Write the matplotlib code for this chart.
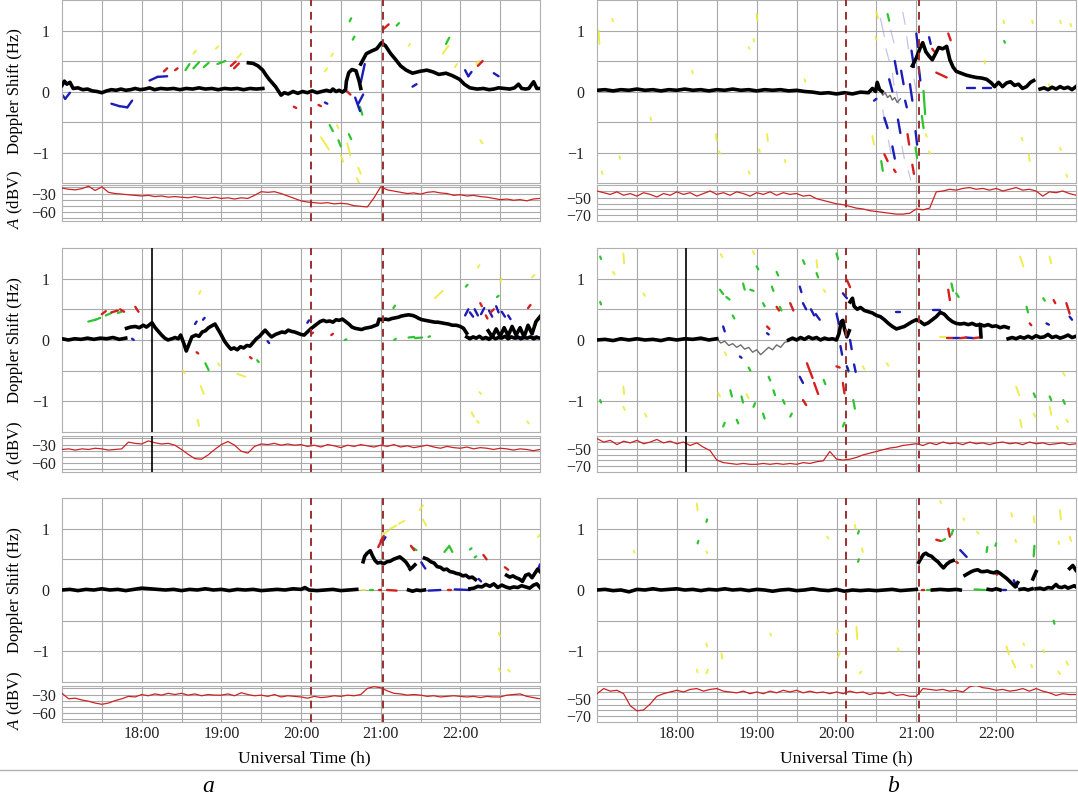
import numpy as np
import matplotlib.pyplot as plt
from matplotlib.collections import LineCollection
from matplotlib.lines import Line2D

plt.rcParams['font.family'] = ['Liberation Serif', 'DejaVu Serif']
plt.rcParams['mathtext.fontset'] = 'custom'
plt.rcParams['mathtext.rm'] = 'Liberation Serif'
plt.rcParams['mathtext.it'] = 'Liberation Serif:italic'
plt.rcParams['font.size'] = 11.5

# ---------------- data ----------------
# amplitude A (dBV), samples every 5 min from 17:00 to 23:00
amp_time = np.linspace(17, 23, 73)
amp_a1 = [-21, -23, -24, -22, -18, -25, -19, -28, -30, -31, -32, -33,
          -34, -33, -35, -34, -36, -35, -36, -37, -35, -37, -38, -36,
          -38, -37, -39, -37, -38, -33, -27, -28, -27, -30, -34, -38,
          -42, -44, -45, -46, -45, -47, -46, -47, -50, -51, -52, -37,
          -19, -24, -26, -28, -30, -29, -31, -28, -27, -29, -30, -33,
          -32, -34, -33, -35, -36, -38, -40, -39, -41, -40, -42, -39, -38]
amp_b1 = [-42, -44, -46, -43, -47, -45, -48, -44, -46, -49, -45, -47,
          -43, -46, -44, -48, -45, -42, -46, -44, -47, -43, -45, -48,
          -44, -46, -43, -47, -44, -46, -45, -48, -47, -51, -53, -55,
          -57, -58, -60, -62, -63, -65, -66, -67, -68, -69, -69, -68,
          -63, -64, -62, -43, -42, -40, -41, -39, -38, -40, -39, -41,
          -39, -42, -40, -38, -41, -40, -42, -48, -43, -44, -42, -45, -47]
amp_a2 = [-38, -37, -39, -37, -38, -36, -37, -39, -38, -37, -26, -28,
          -29, -24, -27, -29, -28, -31, -38, -46, -53, -54, -47, -38,
          -30, -25, -31, -41, -44, -33, -29, -30, -28, -31, -29, -31,
          -30, -33, -31, -34, -30, -32, -35, -31, -33, -30, -32, -34,
          -31, -33, -30, -34, -32, -35, -33, -31, -34, -36, -33, -35,
          -36, -34, -37, -35, -36, -38, -36, -37, -39, -37, -38, -40, -38]
amp_b2 = [-38, -42, -40, -45, -41, -43, -40, -44, -42, -39, -43, -41,
          -44, -42, -46, -43, -48, -52, -63, -66, -67, -68, -67, -68,
          -68, -67, -68, -67, -68, -67, -68, -66, -67, -65, -64, -53,
          -62, -63, -62, -60, -57, -55, -53, -51, -49, -48, -46, -45,
          -44, -46, -43, -45, -42, -44, -43, -45, -42, -44, -43, -45,
          -43, -42, -44, -43, -45, -42, -44, -43, -45, -44, -43, -45, -44]
amp_a3 = [-28, -37, -36, -39, -41, -44, -46, -44, -40, -37, -33, -34,
          -30, -32, -29, -31, -28, -30, -28, -31, -29, -32, -30, -31,
          -31, -29, -32, -27, -30, -32, -31, -33, -30, -34, -32, -33,
          -34, -36, -33, -35, -34, -32, -33, -31, -32, -30, -20, -17,
          -19, -24, -28, -29, -31, -30, -31, -33, -32, -34, -33, -32,
          -33, -34, -33, -35, -33, -34, -34, -31, -30, -29, -33, -35, -37]
amp_b3 = [-44, -38, -41, -40, -44, -58, -64, -63, -56, -47, -44, -42,
          -40, -42, -39, -38, -41, -39, -38, -41, -42, -43, -41, -44,
          -42, -44, -41, -43, -40, -42, -40, -43, -41, -43, -42, -44,
          -42, -44, -41, -43, -42, -45, -43, -44, -42, -46, -45, -47,
          -47, -38, -39, -40, -39, -41, -40, -42, -36, -34, -37, -38,
          -40, -39, -41, -40, -38, -41, -38, -41, -43, -46, -44, -45, -45]

# main Doppler traces (time h, shift Hz), one list per continuous piece
black_a1 = [
    [(17.00, 0.10), (17.03, 0.17), (17.06, 0.12), (17.10, 0.15), (17.14, 0.05), (17.20, 0.06),
     (17.26, 0.03), (17.32, 0.04), (17.38, 0.01), (17.44, 0.00), (17.50, -0.02), (17.56, 0.01),
     (17.62, 0.03), (17.68, 0.02), (17.74, 0.04), (17.80, 0.02), (17.86, 0.03), (17.92, 0.05),
     (17.98, 0.03), (18.04, 0.04), (18.10, 0.06), (18.16, 0.03), (18.24, 0.05), (18.32, 0.04),
     (18.40, 0.05), (18.48, 0.03), (18.56, 0.05), (18.64, 0.04), (18.72, 0.06), (18.80, 0.04),
     (18.88, 0.05), (18.96, 0.03), (19.04, 0.05), (19.12, 0.04), (19.20, 0.05), (19.28, 0.03),
     (19.36, 0.05), (19.44, 0.04), (19.52, 0.05)],
    [(19.34, 0.47), (19.40, 0.46), (19.46, 0.42), (19.52, 0.35), (19.56, 0.27), (19.60, 0.20),
     (19.64, 0.14), (19.68, 0.08), (19.72, 0.00), (19.75, -0.06), (19.79, -0.02), (19.84, -0.04),
     (19.90, 0.00), (19.96, -0.03), (20.02, 0.00), (20.08, -0.02), (20.14, 0.01), (20.20, -0.02),
     (20.26, 0.00), (20.32, 0.02), (20.37, 0.00), (20.40, 0.04), (20.44, 0.00), (20.48, 0.02),
     (20.52, -0.01), (20.56, 0.03), (20.57, 0.17), (20.60, 0.31), (20.64, 0.36), (20.69, 0.34),
     (20.73, 0.17), (20.75, 0.05)],
    [(20.75, 0.45), (20.77, 0.50), (20.82, 0.62), (20.88, 0.66), (20.95, 0.70), (21.01, 0.80),
     (21.06, 0.75), (21.12, 0.63), (21.19, 0.52), (21.25, 0.42), (21.32, 0.35), (21.40, 0.30),
     (21.49, 0.33), (21.58, 0.35), (21.66, 0.32), (21.73, 0.28), (21.82, 0.30), (21.90, 0.26),
     (21.99, 0.20), (22.05, 0.12), (22.12, 0.06), (22.21, 0.04), (22.29, 0.05), (22.36, 0.03),
     (22.42, 0.04), (22.48, 0.06), (22.55, 0.05), (22.62, 0.04), (22.68, 0.06), (22.73, 0.12),
     (22.77, 0.05), (22.82, 0.04), (22.86, 0.05), (22.92, 0.16), (22.96, 0.05), (23.00, 0.05)],
]
black_b1 = [
    [(17.0, 0.02), (17.1, 0.03), (17.2, 0.01), (17.3, 0.03), (17.4, 0.02), (17.5, 0.04), (17.6, 0.02),
     (17.7, 0.03), (17.8, 0.01), (17.9, 0.03), (18.0, 0.02), (18.1, 0.04), (18.2, 0.02), (18.3, 0.03),
     (18.4, 0.01), (18.5, 0.03), (18.6, 0.02), (18.7, 0.04), (18.8, 0.02), (18.9, 0.03), (19.0, 0.01),
     (19.1, 0.03), (19.2, 0.02), (19.3, 0.03), (19.4, 0.01), (19.5, 0.02), (19.6, 0.00), (19.7, -0.01),
     (19.8, -0.03), (19.9, -0.02), (20.0, -0.04), (20.1, -0.02), (20.2, -0.04), (20.3, -0.01),
     (20.4, -0.02), (20.45, 0.05), (20.49, 0.00), (20.51, 0.15), (20.54, 0.03), (20.57, 0.00)],
    [(20.95, 0.42), (21.00, 0.55), (21.05, 0.72), (21.08, 0.80), (21.12, 0.65), (21.16, 0.58),
     (21.20, 0.52), (21.24, 0.62), (21.28, 0.72), (21.33, 0.70), (21.38, 0.74), (21.42, 0.52),
     (21.46, 0.40), (21.50, 0.33), (21.56, 0.30), (21.62, 0.27), (21.68, 0.25), (21.75, 0.23),
     (21.82, 0.22), (21.88, 0.20), (21.94, 0.14), (21.98, 0.08), (22.03, 0.15), (22.08, 0.08),
     (22.13, 0.14), (22.18, 0.16), (22.23, 0.10), (22.28, 0.12), (22.33, 0.05), (22.38, 0.08),
     (22.43, 0.15), (22.47, 0.18)],
    [(22.55, 0.04), (22.60, 0.06), (22.65, 0.03), (22.70, 0.07), (22.75, 0.04), (22.80, 0.08),
     (22.85, 0.05), (22.90, 0.07), (22.95, 0.03), (23.00, 0.08)],
]
black_a2 = [
    [(17.00, 0.02), (17.08, 0.00), (17.16, 0.02), (17.24, 0.01), (17.32, 0.03), (17.40, 0.01),
     (17.48, 0.03), (17.56, 0.02), (17.64, 0.04), (17.72, 0.01), (17.80, 0.03)],
    [(17.81, 0.19), (17.86, 0.21), (17.92, 0.22), (17.97, 0.20), (18.02, 0.24), (18.06, 0.21),
     (18.10, 0.25), (18.13, 0.28), (18.17, 0.20), (18.21, 0.14), (18.25, 0.08), (18.29, 0.03),
     (18.33, 0.00), (18.38, 0.02), (18.42, 0.04), (18.46, 0.02), (18.49, 0.08), (18.53, -0.06),
     (18.56, -0.18), (18.60, -0.05), (18.63, 0.05), (18.68, 0.08), (18.72, 0.06), (18.76, 0.13),
     (18.80, 0.15), (18.84, 0.20), (18.88, 0.23), (18.92, 0.26), (18.96, 0.17), (19.00, 0.08),
     (19.04, -0.02), (19.08, -0.09), (19.12, -0.15), (19.16, -0.13), (19.20, -0.16), (19.24, -0.11),
     (19.28, -0.13), (19.32, -0.09), (19.36, -0.10), (19.40, -0.04), (19.44, 0.02), (19.48, 0.06),
     (19.52, 0.12), (19.55, 0.16), (19.59, 0.10), (19.63, 0.05), (19.68, 0.09), (19.72, 0.11),
     (19.76, 0.13), (19.80, 0.12), (19.84, 0.16), (19.88, 0.14), (19.92, 0.13), (19.96, 0.11),
     (20.00, 0.09), (20.04, 0.08), (20.08, 0.13), (20.12, 0.18), (20.16, 0.22), (20.20, 0.26),
     (20.24, 0.30), (20.28, 0.32), (20.32, 0.30), (20.36, 0.31), (20.40, 0.29), (20.44, 0.33),
     (20.48, 0.32), (20.52, 0.34), (20.56, 0.30), (20.60, 0.26), (20.64, 0.21), (20.68, 0.19),
     (20.72, 0.18), (20.76, 0.17), (20.80, 0.19), (20.84, 0.20), (20.88, 0.21), (20.92, 0.23),
     (20.96, 0.25), (20.98, 0.34), (21.02, 0.33), (21.06, 0.34), (21.10, 0.33), (21.14, 0.35),
     (21.18, 0.36), (21.22, 0.37), (21.26, 0.39), (21.30, 0.40), (21.35, 0.41), (21.40, 0.40),
     (21.44, 0.38), (21.48, 0.35), (21.52, 0.33), (21.56, 0.32), (21.60, 0.31), (21.64, 0.30),
     (21.68, 0.29), (21.72, 0.29), (21.76, 0.28), (21.80, 0.27), (21.85, 0.26), (21.90, 0.24),
     (21.95, 0.24), (22.00, 0.22), (22.04, 0.19), (22.08, 0.11)],
    [(22.08, 0.05), (22.12, 0.02), (22.16, 0.05), (22.20, 0.03), (22.24, 0.06), (22.28, 0.02),
     (22.32, 0.04), (22.36, 0.01), (22.40, 0.05), (22.44, 0.02), (22.48, 0.04), (22.52, 0.03),
     (22.56, 0.06), (22.60, 0.02), (22.64, 0.05), (22.68, 0.03), (22.72, 0.05), (22.76, 0.02),
     (22.80, 0.04), (22.84, 0.03), (22.88, 0.05), (22.92, 0.02), (22.96, 0.04), (23.00, 0.03)],
    [(22.35, 0.15), (22.40, 0.05), (22.45, 0.18), (22.50, 0.06), (22.55, 0.20), (22.60, 0.07),
     (22.65, 0.22), (22.70, 0.08), (22.75, 0.20), (22.80, 0.05), (22.85, 0.24), (22.90, 0.10),
     (22.95, 0.30), (23.00, 0.38)],
]
black_b2 = [
    [(17.0, 0.00), (17.1, 0.01), (17.2, -0.01), (17.3, 0.02), (17.4, 0.00), (17.5, 0.02), (17.6, 0.00),
     (17.7, 0.01), (17.8, -0.01), (17.9, 0.02), (18.0, 0.00), (18.1, 0.02), (18.2, 0.01), (18.3, 0.03),
     (18.4, 0.00), (18.5, 0.02)],
    [(19.40, 0.00), (19.45, 0.03), (19.50, 0.00), (19.55, 0.04), (19.60, 0.01), (19.65, 0.05),
     (19.70, 0.02), (19.75, 0.04), (19.80, 0.00), (19.85, 0.03), (19.90, 0.01), (19.95, 0.02),
     (20.00, 0.00), (20.03, 0.10), (20.06, 0.30), (20.08, 0.32), (20.10, 0.18), (20.13, 0.05),
     (20.16, 0.15)],
    [(20.17, 0.62), (20.20, 0.68), (20.22, 0.55), (20.26, 0.50), (20.30, 0.53), (20.35, 0.48),
     (20.40, 0.46), (20.45, 0.44), (20.50, 0.40), (20.55, 0.38), (20.60, 0.33), (20.65, 0.27),
     (20.70, 0.22), (20.75, 0.18), (20.80, 0.20), (20.85, 0.22), (20.90, 0.26), (20.95, 0.30),
     (21.00, 0.33), (21.05, 0.30), (21.10, 0.25), (21.15, 0.28), (21.20, 0.33), (21.25, 0.38),
     (21.30, 0.45), (21.35, 0.42), (21.40, 0.35), (21.45, 0.30), (21.50, 0.27), (21.55, 0.26),
     (21.60, 0.27), (21.65, 0.25), (21.70, 0.27), (21.75, 0.24), (21.80, 0.25), (21.81, 0.05)],
    [(21.80, 0.25), (21.85, 0.23), (21.90, 0.25), (21.95, 0.22), (22.00, 0.23), (22.05, 0.20),
     (22.10, 0.22), (22.15, 0.20)],
    [(22.15, 0.02), (22.20, 0.04), (22.25, 0.02), (22.30, 0.05), (22.35, 0.03), (22.40, 0.06),
     (22.45, 0.03), (22.50, 0.07), (22.55, 0.04), (22.60, 0.05), (22.65, 0.09), (22.70, 0.04),
     (22.75, 0.06), (22.80, 0.03), (22.85, 0.05), (22.90, 0.08), (22.95, 0.04), (23.00, 0.06)],
]
black_a3 = [
    [(17.0, 0.00), (17.1, 0.01), (17.2, -0.01), (17.3, 0.01), (17.4, 0.00), (17.5, 0.02), (17.6, 0.00),
     (17.7, 0.01), (17.8, -0.01), (17.9, 0.01), (18.0, 0.03), (18.1, 0.02), (18.2, 0.01), (18.3, 0.00),
     (18.4, 0.01), (18.5, -0.01), (18.6, 0.01), (18.7, 0.00), (18.8, 0.02), (18.9, 0.00), (19.0, 0.01),
     (19.1, -0.01), (19.2, 0.01), (19.3, 0.00), (19.4, 0.01), (19.5, -0.01), (19.6, 0.00), (19.7, 0.01),
     (19.8, 0.00), (19.9, 0.02), (20.0, 0.01), (20.05, 0.04), (20.1, 0.00), (20.2, -0.01), (20.3, 0.00),
     (20.4, 0.01), (20.5, -0.01), (20.6, 0.00), (20.7, 0.01)],
    [(21.35, 0.00), (21.40, -0.02), (21.45, 0.00), (21.50, -0.01), (21.55, 0.00)],
    [(22.12, 0.02), (22.17, 0.03), (22.22, 0.06), (22.27, 0.05), (22.32, 0.09), (22.37, 0.06),
     (22.42, 0.10), (22.47, 0.04), (22.52, 0.08), (22.57, 0.05), (22.62, 0.03), (22.67, 0.05),
     (22.72, 0.04), (22.77, 0.07), (22.82, 0.05), (22.87, 0.03), (22.92, 0.08), (22.96, 0.10),
     (23.00, 0.04)],
    [(20.78, 0.46), (20.80, 0.55), (20.83, 0.60), (20.87, 0.64), (20.90, 0.55), (20.93, 0.48),
     (20.96, 0.44), (21.00, 0.45), (21.04, 0.43), (21.08, 0.46), (21.12, 0.47), (21.16, 0.50),
     (21.20, 0.52), (21.24, 0.54), (21.28, 0.50), (21.32, 0.45), (21.35, 0.39)],
    [(21.37, 0.34), (21.40, 0.37), (21.43, 0.41)],
    [(21.55, 0.52), (21.59, 0.50), (21.63, 0.46), (21.67, 0.44), (21.71, 0.38), (21.75, 0.37),
     (21.79, 0.33), (21.83, 0.34), (21.87, 0.30), (21.91, 0.29), (21.95, 0.27), (21.99, 0.26),
     (22.03, 0.23), (22.07, 0.24), (22.11, 0.20), (22.15, 0.21), (22.19, 0.17)],
    [(22.58, 0.24), (22.62, 0.21), (22.66, 0.23), (22.70, 0.20), (22.74, 0.18), (22.78, 0.14),
     (22.82, 0.24), (22.86, 0.26), (22.90, 0.20), (22.94, 0.28), (22.97, 0.34), (23.00, 0.30)],
]
black_b3 = [
    [(17.0, 0.00), (17.1, 0.01), (17.2, -0.01), (17.3, 0.00), (17.4, -0.03), (17.5, 0.01), (17.6, 0.00),
     (17.7, 0.02), (17.8, 0.00), (17.9, 0.01), (18.0, 0.02), (18.1, 0.00), (18.2, 0.01), (18.3, -0.01),
     (18.4, 0.01), (18.5, 0.00), (18.6, 0.02), (18.7, 0.00), (18.8, 0.01), (18.9, -0.01), (19.0, 0.01),
     (19.1, 0.00), (19.2, -0.02), (19.3, 0.00), (19.4, 0.01), (19.5, -0.01), (19.6, 0.00), (19.7, 0.02),
     (19.8, 0.00), (19.9, -0.01), (20.0, 0.01), (20.1, -0.02), (20.2, 0.00), (20.3, -0.01), (20.4, 0.00),
     (20.5, -0.01), (20.6, 0.00), (20.7, 0.01), (20.8, -0.01), (20.9, 0.00), (21.0, 0.01)],
    [(21.03, 0.45), (21.06, 0.52), (21.09, 0.58), (21.12, 0.60), (21.15, 0.57), (21.19, 0.55),
     (21.23, 0.50), (21.27, 0.46), (21.31, 0.40), (21.34, 0.36), (21.38, 0.42), (21.42, 0.46),
     (21.46, 0.48)],
    [(21.61, 0.24), (21.65, 0.27), (21.69, 0.30), (21.73, 0.32), (21.77, 0.33), (21.81, 0.30),
     (21.85, 0.30), (21.89, 0.31), (21.93, 0.29), (21.97, 0.28), (22.01, 0.30), (22.05, 0.27),
     (22.09, 0.23), (22.13, 0.19), (22.17, 0.14), (22.21, 0.09), (22.24, 0.05), (22.27, 0.12)],
    [(22.46, 0.18), (22.48, 0.24), (22.50, 0.30)],
    [(21.20, 0.00), (21.30, 0.01), (21.40, 0.00), (21.50, 0.01), (21.55, 0.00)],
    [(21.90, 0.01), (21.95, 0.00), (22.00, 0.02), (22.05, 0.00)],
    [(22.30, 0.01), (22.35, 0.02), (22.40, 0.00), (22.45, 0.02)],
    [(22.50, 0.02), (22.55, 0.03), (22.60, 0.01), (22.65, 0.04), (22.70, 0.03), (22.75, 0.09),
     (22.78, 0.05), (22.82, 0.04), (22.86, 0.06), (22.90, 0.03), (22.94, 0.05), (22.98, 0.07),
     (23.00, 0.05)],
    [(22.92, 0.35), (22.96, 0.40), (23.00, 0.32)],
]
gray_b1 = [[(20.55, 0.02), (20.58, -0.06), (20.61, -0.02), (20.64, -0.10), (20.67, -0.06),
            (20.70, -0.14), (20.73, -0.10), (20.76, -0.18), (20.80, -0.12)]]
gray_b2 = [[(18.50, 0.02), (18.55, -0.05), (18.60, -0.02), (18.65, -0.09), (18.70, -0.06),
            (18.75, -0.12), (18.80, -0.08), (18.85, -0.15), (18.90, -0.12), (18.95, -0.20),
            (19.00, -0.16), (19.05, -0.24), (19.10, -0.18), (19.15, -0.12), (19.20, -0.16),
            (19.25, -0.08), (19.30, -0.12), (19.35, -0.04), (19.40, -0.02)]]

# Doppler spectrum fragments as strokes (t0, f0, t1, f1)
red_a1 = [(18.28, 0.33, 18.32, 0.38), (18.42, 0.35, 18.45, 0.38), (19.12, 0.42, 19.18, 0.49),
          (19.16, 0.38, 19.22, 0.46), (19.91, -0.25, 19.94, -0.27), (20.22, -0.22, 20.25, -0.24),
          (20.58, 0.00, 20.62, -0.05), (21.03, 1.02, 21.10, 1.10), (22.22, 0.42, 22.28, 0.50)]
green_a1 = [(18.55, 0.35, 18.60, 0.45), (18.65, 0.38, 18.72, 0.48), (18.78, 0.40, 18.84, 0.47),
            (18.95, 0.45, 19.05, 0.50), (20.61, 1.15, 20.63, 1.20), (20.65, 0.85, 20.67, 0.90),
            (20.36, -0.55, 20.40, -0.65), (20.47, -0.80, 20.50, -0.90), (20.60, -0.70, 20.63, -0.78),
            (20.74, -0.25, 20.77, -0.38), (21.20, 1.08, 21.23, 1.12), (21.82, 0.78, 21.86, 0.88),
            (19.45, 0.05, 19.48, 0.04)]
blue_a1 = [(17.00, -0.05, 17.04, -0.12), (17.04, -0.12, 17.10, -0.02), (17.62, -0.20, 17.72, -0.24),
           (17.72, -0.24, 17.82, -0.26), (17.82, -0.26, 17.88, -0.15), (18.10, 0.18, 18.20, 0.24),
           (18.20, 0.24, 18.32, 0.25), (18.12, 0.05, 18.18, 0.03), (20.75, 0.15, 20.80, 0.45),
           (20.68, -0.10, 20.74, -0.32), (20.72, -0.20, 20.78, -0.05), (20.30, -0.18, 20.33, -0.20),
           (21.40, 0.08, 21.45, 0.12), (22.06, 0.35, 22.10, 0.25), (22.10, 0.25, 22.14, 0.32),
           (22.42, 0.30, 22.48, 0.25), (19.50, 0.05, 19.53, 0.04)]
yellow_a1 = [(18.65, 0.62, 18.68, 0.67), (18.93, 0.70, 18.96, 0.74), (19.20, 0.55, 19.25, 0.62),
             (20.30, 0.33, 20.33, 0.38), (20.38, 0.58, 20.40, 0.62), (20.25, -0.75, 20.35, -0.95),
             (20.45, -0.55, 20.47, -0.60), (20.50, -1.05, 20.53, -1.15), (20.58, -0.85, 20.62, -1.05),
             (20.72, -1.25, 20.75, -1.35), (20.70, -1.42, 20.73, -1.50), (21.35, 0.75, 21.37, 0.78),
             (21.78, 0.62, 21.85, 0.75), (21.93, 0.40, 21.96, 0.45), (22.25, -0.80, 22.28, -0.85),
             (22.20, 0.45, 22.23, 0.50), (19.35, 0.05, 19.40, 0.06)]

red_b1 = [(20.60, -1.03, 20.64, -1.14), (20.72, -1.28, 20.74, -1.32), (20.89, -0.70, 20.91, -0.87),
          (21.25, 0.31, 21.38, 0.23), (21.40, 0.95, 21.43, 0.84), (21.20, 0.70, 21.22, 0.66),
          (20.95, -1.20, 20.97, -1.35)]
green_b1 = [(21.09, 0.01, 21.11, -0.37), (20.99, -0.92, 21.01, -1.09), (20.56, -1.14, 20.58, -1.30),
            (20.64, 1.27, 20.66, 1.16), (22.10, 0.83, 22.11, 0.80), (21.07, -0.40, 21.09, -0.60)]
blue_b1 = [(20.60, -0.43, 20.64, -0.60), (20.77, -0.46, 20.80, -0.68), (20.86, -0.15, 20.88, -0.26),
           (20.92, 0.12, 20.95, -0.15), (20.73, 0.50, 20.76, 0.29), (20.81, 0.34, 20.84, 0.12),
           (20.94, 0.67, 20.97, 0.40), (21.00, 0.95, 21.02, 0.73), (21.03, 0.40, 21.05, 0.18),
           (20.99, -0.65, 21.01, -0.87), (21.16, 0.89, 21.18, 0.78), (21.63, 0.05, 21.74, 0.05),
           (21.83, 0.05, 21.94, 0.05), (20.47, -0.15, 20.50, -0.12), (20.66, 0.20, 20.70, 0.00),
           (20.70, -0.90, 20.73, -1.10)]
yellow_b1 = [(17.02, 1.00, 17.03, 0.78), (17.19, 1.19, 17.20, 1.15), (17.67, -0.43, 17.68, -0.47),
             (18.19, 0.34, 18.20, 0.30), (18.49, -0.70, 18.50, -0.81), (18.53, -0.98, 18.54, -1.02),
             (18.90, 0.73, 18.91, 0.70), (18.96, 0.86, 18.97, 0.82), (19.00, 1.27, 19.01, 1.16),
             (19.03, -0.95, 19.04, -0.99), (18.90, -1.31, 18.91, -1.35), (19.13, -0.70, 19.14, -0.81),
             (19.35, -1.12, 19.36, -1.16), (17.06, -1.31, 17.07, -1.35), (17.28, -1.06, 17.29, -1.10),
             (20.45, -0.73, 20.47, -0.87), (20.49, 0.89, 20.50, 0.85), (21.12, -0.70, 21.13, -0.74),
             (21.16, -0.98, 21.17, -1.02), (21.85, 0.50, 21.86, 0.46), (22.09, 1.16, 22.10, 1.12),
             (22.45, 1.16, 22.46, 1.12), (22.80, 1.16, 22.81, 1.12), (22.32, -0.76, 22.33, -0.80),
             (22.41, -1.03, 22.42, -1.14), (22.80, -0.92, 22.81, -0.96), (22.88, -1.36, 22.89, -1.40),
             (22.93, 1.11, 22.94, 1.07), (22.66, 0.12, 22.67, 0.08), (20.50, 1.30, 20.52, 1.20),
             (19.60, 0.20, 19.61, 0.16)]
faint_b1 = [(20.55, 1.20, 20.60, 0.90), (20.62, 0.70, 20.66, 0.50), (20.68, 1.00, 20.72, 0.80),
            (20.75, 0.00, 20.78, -0.20), (20.82, -0.90, 20.85, -1.10), (20.88, 0.90, 20.90, 0.70),
            (20.58, -0.30, 20.60, -0.50), (20.83, 1.30, 20.86, 1.10), (20.90, -1.30, 20.93, -1.45),
            (20.65, -0.80, 20.68, -1.00), (20.97, 0.20, 21.00, 0.00), (20.70, 0.30, 20.72, 0.10)]

red_a2 = [(17.50, 0.42, 17.55, 0.47), (17.62, 0.45, 17.70, 0.48), (17.73, 0.50, 17.78, 0.46),
          (17.92, 0.54, 17.96, 0.46), (18.69, -0.20, 18.71, -0.22), (19.36, -0.28, 19.38, -0.30),
          (20.13, 0.10, 20.15, 0.12), (20.38, 0.08, 20.40, 0.10), (22.25, 0.60, 22.27, 0.55),
          (22.32, 0.40, 22.34, 0.35), (22.38, 0.45, 22.42, 0.50), (22.85, 0.52, 22.88, 0.57)]
green_a2 = [(17.33, 0.30, 17.42, 0.33), (17.42, 0.33, 17.48, 0.36), (17.55, 0.40, 17.62, 0.44),
            (17.70, 0.44, 17.75, 0.46), (18.80, -0.38, 18.84, -0.49), (19.45, -0.33, 19.47, -0.36),
            (20.55, 0.00, 20.57, 0.01), (21.16, 0.52, 21.18, 0.56), (21.17, 0.00, 21.19, 0.02),
            (21.35, 0.04, 21.42, 0.05), (21.43, 0.03, 21.52, 0.04), (21.60, 0.05, 21.62, 0.06),
            (22.46, 0.70, 22.48, 0.72), (22.07, 0.87, 22.09, 0.90)]
blue_a2 = [(17.88, 0.02, 17.90, 0.00), (18.67, 0.26, 18.69, 0.30), (18.77, 0.33, 18.79, 0.36),
           (19.58, -0.02, 19.60, -0.05), (20.08, 0.28, 20.10, 0.32), (22.06, 0.40, 22.10, 0.50),
           (22.12, 0.45, 22.16, 0.38), (22.18, 0.50, 22.22, 0.40), (22.26, 0.42, 22.30, 0.52),
           (22.36, 0.48, 22.40, 0.38), (22.45, 0.55, 22.48, 0.45), (22.52, 0.46, 22.56, 0.38),
           (22.60, 0.40, 22.63, 0.34), (22.10, 0.04, 22.20, 0.03), (22.30, 0.03, 22.40, 0.04),
           (22.70, 0.02, 22.78, 0.05), (22.90, 0.04, 22.96, 0.06)]
yellow_a2 = [(18.72, 0.75, 18.74, 0.80), (18.74, -0.75, 18.78, -0.88), (18.70, -1.30, 18.72, -1.40),
             (18.52, -0.50, 18.54, -0.54), (18.96, -0.38, 18.98, -0.42), (19.20, -0.55, 19.30, -0.60),
             (21.68, 0.68, 21.78, 0.80), (22.22, 1.18, 22.24, 1.22), (22.24, -0.85, 22.26, -0.88),
             (22.14, -1.18, 22.17, -1.25), (22.21, -1.32, 22.23, -1.35), (22.84, -1.33, 22.86, -1.36),
             (22.90, 1.02, 22.93, 1.06), (22.50, 0.95, 22.52, 1.00)]

red_b2 = [(19.42, 0.60, 19.46, 0.48), (19.63, -0.38, 19.70, -0.62), (19.72, -0.70, 19.77, -0.88),
          (19.58, -0.98, 19.62, -1.06), (20.13, 0.98, 20.17, 0.86), (20.08, -0.70, 20.10, -0.87),
          (20.00, -0.43, 20.04, -0.45), (21.40, 0.82, 21.42, 0.65), (22.72, 0.65, 22.74, 0.60),
          (22.88, 0.60, 22.92, 0.43), (22.42, 0.27, 22.44, 0.24), (19.25, 0.54, 19.28, 0.48),
          (19.13, 0.22, 19.16, 0.18), (21.38, 0.04, 21.45, 0.04), (21.55, 0.03, 21.62, 0.04),
          (21.72, 0.03, 21.78, 0.04)]
green_b2 = [(18.54, 0.82, 18.58, 0.75), (18.62, 0.70, 18.66, 0.66), (18.83, 0.92, 18.85, 0.82),
            (18.92, 0.82, 18.96, 0.80), (19.08, 0.60, 19.10, 0.55), (19.19, 0.87, 19.21, 0.80),
            (19.29, 0.54, 19.31, 0.48), (19.00, 1.20, 19.02, 1.15), (19.25, 1.11, 19.27, 1.05),
            (19.58, 1.30, 19.60, 1.24), (19.75, 1.09, 19.77, 1.02), (18.67, -0.82, 18.69, -0.92),
            (18.81, -0.92, 18.83, -1.02), (18.96, -1.09, 18.98, -1.03), (19.08, -1.20, 19.10, -1.28),
            (19.21, -0.82, 19.23, -0.90), (19.33, -0.98, 19.35, -1.04), (19.42, -1.25, 19.44, -1.20),
            (18.75, -1.30, 18.77, -1.36), (18.58, -1.41, 18.60, -1.35), (19.84, -0.65, 19.86, -0.72),
            (20.00, 1.41, 20.02, 1.32), (20.13, -0.43, 20.15, -0.52), (20.21, -0.98, 20.23, -1.12),
            (20.08, -1.41, 20.10, -1.35), (17.04, 1.36, 17.05, 1.32), (17.04, 0.62, 17.05, 0.58),
            (17.04, -0.98, 17.05, -1.02), (21.44, 0.92, 21.46, 0.80), (21.50, 0.76, 21.53, 0.70),
            (22.38, 0.54, 22.40, 0.45), (22.59, 0.68, 22.61, 0.64), (22.47, -0.87, 22.49, -0.93),
            (22.67, -0.92, 22.69, -0.98), (22.84, -0.98, 22.86, -1.04), (18.70, 0.40, 18.72, 0.35),
            (19.15, -0.60, 19.17, -0.66), (18.90, -0.45, 18.92, -0.50)]
blue_b2 = [(19.54, 0.87, 19.56, 0.78), (19.58, 0.60, 19.62, 0.50), (19.68, 0.50, 19.72, 0.40),
           (19.74, 0.42, 19.79, 0.33), (19.54, -0.60, 19.58, -0.70), (20.00, 0.43, 20.03, 0.26),
           (20.08, 0.76, 20.13, 0.68), (20.17, 0.00, 20.19, -0.15), (20.13, -0.43, 20.15, -0.50),
           (22.63, 0.27, 22.66, 0.25), (22.92, 0.38, 22.95, 0.33), (18.58, 0.22, 18.60, 0.14),
           (18.79, -0.27, 18.81, -0.29), (19.13, 0.11, 19.15, 0.09), (20.75, 0.46, 20.79, 0.46),
           (21.21, 0.49, 21.30, 0.49), (21.45, 0.04, 21.55, 0.04), (21.62, 0.04, 21.72, 0.03),
           (20.05, -0.10, 20.07, -0.24), (20.22, -0.40, 20.24, -0.52)]
yellow_b2 = [(17.33, 1.41, 17.34, 1.25), (17.20, 1.11, 17.22, 1.07), (17.58, 0.76, 17.60, 0.72),
             (17.33, -0.76, 17.34, -0.88), (17.33, -1.09, 17.35, -1.14), (17.60, -1.20, 17.62, -1.25),
             (18.52, -0.87, 18.54, -0.92), (18.87, -0.88, 18.90, -0.95), (19.75, 1.30, 19.76, 1.18),
             (19.84, 0.82, 19.86, 0.78), (20.33, -0.43, 20.35, -0.48), (20.63, -0.38, 20.65, -0.42),
             (22.30, 1.36, 22.34, 1.20), (22.67, 1.36, 22.69, 1.25), (22.25, -0.76, 22.29, -0.90),
             (22.30, -1.30, 22.32, -1.42), (22.47, -1.20, 22.49, -1.25), (22.67, -1.09, 22.69, -1.22),
             (22.76, -1.41, 22.78, -1.45), (22.84, -0.54, 22.86, -0.58), (22.88, -1.30, 22.90, -1.34),
             (21.30, 0.05, 21.37, 0.05), (18.55, 1.40, 18.57, 1.35), (18.95, 1.45, 18.97, 1.40),
             (18.60, -0.20, 18.62, -0.25)]

red_a3 = [(21.38, 0.72, 21.42, 0.65), (22.29, 0.57, 22.33, 0.50), (20.97, 0.70, 21.00, 0.78),
          (21.00, 0.80, 21.04, 0.88), (22.56, 0.37, 22.60, 0.33), (20.98, 0.00, 21.00, 0.00),
          (21.08, 0.00, 21.20, -0.01), (21.85, 0.00, 21.88, 0.00)]
green_a3 = [(21.39, 0.70, 21.45, 0.65), (21.80, 0.62, 21.85, 0.70), (21.86, 0.72, 21.90, 0.62),
            (22.12, 0.66, 22.14, 0.68), (22.18, 0.53, 22.20, 0.55), (20.87, 0.00, 20.90, 0.00)]
blue_a3 = [(21.02, 0.78, 21.06, 0.86), (21.51, 0.45, 21.56, 0.35), (22.23, 0.18, 22.26, 0.14),
           (22.98, 0.35, 23.00, 0.42), (21.60, -0.01, 21.75, 0.00), (21.93, 0.01, 22.12, 0.00)]
yellow_a3 = [(21.02, 0.90, 21.10, 0.97), (21.12, 1.00, 21.20, 1.05), (21.23, 1.08, 21.30, 1.13),
             (21.49, 1.30, 21.53, 1.38), (21.53, 1.15, 21.57, 1.05), (22.48, -0.70, 22.50, -0.75),
             (22.48, -1.28, 22.50, -1.32), (22.60, -1.30, 22.62, -1.33), (22.97, 0.86, 23.00, 0.90),
             (20.76, 0.00, 20.80, 0.00)]

red_b3 = [(21.25, 0.82, 21.30, 0.80), (21.40, 1.00, 21.42, 0.87), (21.50, 0.46, 21.52, 0.44),
          (21.99, 0.27, 22.01, 0.25), (21.23, 0.00, 21.26, 0.00), (21.07, 0.00, 21.10, 0.00)]
green_b3 = [(18.26, 0.76, 18.27, 0.80), (18.37, 1.11, 18.38, 1.15), (20.27, 0.92, 20.28, 0.96),
            (20.27, 0.46, 20.28, 0.50), (21.32, 0.80, 21.36, 0.83), (21.44, 0.90, 21.46, 0.98),
            (21.88, 0.62, 21.89, 0.70), (21.99, 0.72, 22.00, 0.76), (22.47, 0.55, 22.48, 0.72),
            (21.88, 0.00, 21.92, 0.01), (21.13, 0.00, 21.17, 0.00), (21.73, 0.01, 21.86, 0.00),
            (22.72, -0.50, 22.73, -0.55)]
blue_b3 = [(21.38, 0.00, 21.46, 0.00), (21.55, 0.65, 21.63, 0.54), (22.09, 0.00, 22.12, 0.00),
           (22.22, 0.16, 22.26, 0.05)]
yellow_b3 = [(18.25, 1.41, 18.26, 1.30), (18.37, 0.63, 18.38, 0.60), (17.46, 0.64, 17.47, 0.61),
             (19.88, 0.87, 19.90, 0.84), (20.23, 1.06, 20.24, 1.00), (20.32, 0.68, 20.33, 0.62),
             (18.37, -0.87, 18.38, -0.92), (18.56, -1.03, 18.57, -1.12), (18.25, -1.30, 18.26, -1.34),
             (18.37, -1.36, 18.39, -1.30), (20.00, -0.71, 20.02, -0.66), (20.02, -1.09, 20.04, -1.03),
             (20.25, -0.60, 20.26, -0.80), (20.29, -1.36, 20.31, -1.33), (19.17, -0.71, 19.18, -0.74),
             (21.59, 1.17, 21.60, 1.14), (21.76, 0.95, 21.78, 0.92), (22.24, 0.82, 22.25, 0.78),
             (22.19, 1.25, 22.20, 1.20), (22.78, 0.79, 22.79, 0.75), (22.92, 0.87, 22.94, 0.80),
             (22.13, -0.92, 22.16, -1.05), (22.20, -1.15, 22.24, -1.26), (22.44, -1.22, 22.45, -1.26),
             (22.59, -0.98, 22.60, -1.02), (22.78, -1.33, 22.80, -1.37), (22.88, -1.17, 22.90, -1.22),
             (22.34, -0.87, 22.35, -0.90), (20.77, -0.95, 20.78, -0.99), (22.80, 1.30, 22.81, 1.15),
             (21.30, 1.45, 21.31, 1.42), (22.47, 1.20, 22.48, 1.10)]

hour_ticks = [18, 19, 20, 21, 22]
hour_labels = ['18:00', '19:00', '20:00', '21:00', '22:00']
event_times = [20.12, 21.03]          # dashed markers
marker_left, marker_right = 18.13, 18.11   # solid line, middle row

# ---------------- drawing ----------------
GRID = '#a9a9a9'
EVENT = '#9a2f2f'


def style_axes(ax, ylim, major, minor, pad):
    ax.set_xlim(17, 23)
    ax.set_ylim(*ylim)
    ax.set_xticks(hour_ticks)
    ax.set_xticks(np.arange(17.5, 23, 1.0), minor=True)
    ax.set_yticks(major)
    ax.set_yticks(minor, minor=True)
    ax.grid(True, which='both', color=GRID, lw=0.8)
    ax.tick_params(which='both', length=0, pad=pad, labelsize=11.5, colors='#222222')
    ax.set_xticklabels([])
    for s in ax.spines.values():
        s.set_color('#b0b0b0')
        s.set_linewidth(0.8)
    ax.set_axisbelow(True)


def draw_strokes(ax, strokes, color, lw, alpha=1.0):
    segs = [[(a, b), (c, d)] for a, b, c, d in strokes]
    ax.add_collection(LineCollection(segs, colors=color, linewidths=lw,
                                     alpha=alpha, capstyle='round', zorder=2))


def draw_doppler(ax, black, red, green, blue, yellow, gray=(), faint=()):
    style_axes(ax, (-1.5, 1.5), [-1, 0, 1], [-0.5, 0.5], 9)
    ax.set_yticklabels(['\u22121', '0', '1'])
    if faint:
        draw_strokes(ax, faint, '#a49ad6', 0.9, 0.6)
    draw_strokes(ax, yellow, '#eaea30', 1.4, 0.85)
    draw_strokes(ax, green, '#2ec42e', 1.6)
    draw_strokes(ax, blue, '#1c1cb8', 1.7)
    draw_strokes(ax, red, '#d62020', 1.7)
    for seg in gray:
        t, f = zip(*seg)
        ax.plot(t, f, color='#6e6e6e', lw=1.0, zorder=3)
    for seg in black:
        t, f = zip(*seg)
        ax.plot(t, f, color='black', lw=2.6, zorder=4, solid_joinstyle='round')
    for et in event_times:
        ax.axvline(et, color=EVENT, lw=1.4, ls=(0, (4, 3)), zorder=5)


def draw_amp(ax, values, left):
    if left:
        style_axes(ax, (-75, -16), [-30, -60], [-20, -40, -50, -70], 4)
        ax.set_yticklabels(['\u221230', '\u221260'])
    else:
        style_axes(ax, (-77, -35), [-50, -70], [-42, -57, -63], 4)
        ax.set_yticklabels(['\u221250', '\u221270'])
    ax.plot(amp_time, values, color='#cc2424', lw=0.9, zorder=3)
    for et in event_times:
        ax.axvline(et, color=EVENT, lw=1.4, ls=(0, (4, 3)), zorder=5)


fig = plt.figure(figsize=(10.78, 7.96), dpi=100)

lx, lw_ = 62 / 1078, 478 / 1078
rx, rw = 597 / 1078, 479 / 1078
rows = [((0.7701, 0.2299), (0.7224, 0.0452)),
        ((0.4573, 0.2312), (0.4070, 0.0452)),
        ((0.1432, 0.2312), (0.0930, 0.0452))]

panels = [
    (black_a1, red_a1, green_a1, blue_a1, yellow_a1, (), (), amp_a1,
     black_b1, red_b1, green_b1, blue_b1, yellow_b1, gray_b1, faint_b1, amp_b1),
    (black_a2, red_a2, green_a2, blue_a2, yellow_a2, (), (), amp_a2,
     black_b2, red_b2, green_b2, blue_b2, yellow_b2, gray_b2, (), amp_b2),
    (black_a3, red_a3, green_a3, blue_a3, yellow_a3, (), (), amp_a3,
     black_b3, red_b3, green_b3, blue_b3, yellow_b3, (), (), amp_b3),
]

for i, ((db, dh), (ab, ah)) in enumerate(rows):
    p = panels[i]
    axl = fig.add_axes([lx, db, lw_, dh])
    draw_doppler(axl, *p[0:7])
    axla = fig.add_axes([lx, ab, lw_, ah])
    draw_amp(axla, p[7], True)
    axr = fig.add_axes([rx, db, rw, dh])
    draw_doppler(axr, *p[8:15])
    axra = fig.add_axes([rx, ab, rw, ah])
    draw_amp(axra, p[15], False)

    if i == 1:
        for a in (axl, axla):
            a.axvline(marker_left, color='black', lw=1.2, zorder=6)
        for a in (axr, axra):
            a.axvline(marker_right, color='black', lw=1.2, zorder=6)
    if i == 2:
        for a in (axla, axra):
            a.set_xticklabels(hour_labels)
            a.tick_params(axis='x', pad=3)

    fig.text(0.014, db + dh / 2, 'Doppler Shift (Hz)', rotation=90,
             ha='center', va='center', fontsize=12)
    fig.text(0.014, ab + ah / 2 + 0.004, '$A$ (dBV)', rotation=90,
             ha='center', va='center', fontsize=12)

fig.text(0.282, 0.0477, 'Universal Time (h)', ha='center', va='center', fontsize=12.5)
fig.text(0.785, 0.0477, 'Universal Time (h)', ha='center', va='center', fontsize=12.5)
fig.add_artist(Line2D([0, 1], [0.0327, 0.0327], color='#b0b0b0', lw=1.0))
fig.text(0.193, 0.012, 'a', ha='center', va='center', fontsize=17, style='italic')
fig.text(0.828, 0.012, 'b', ha='center', va='center', fontsize=17, style='italic')

fig.savefig('out.png', dpi=100)
